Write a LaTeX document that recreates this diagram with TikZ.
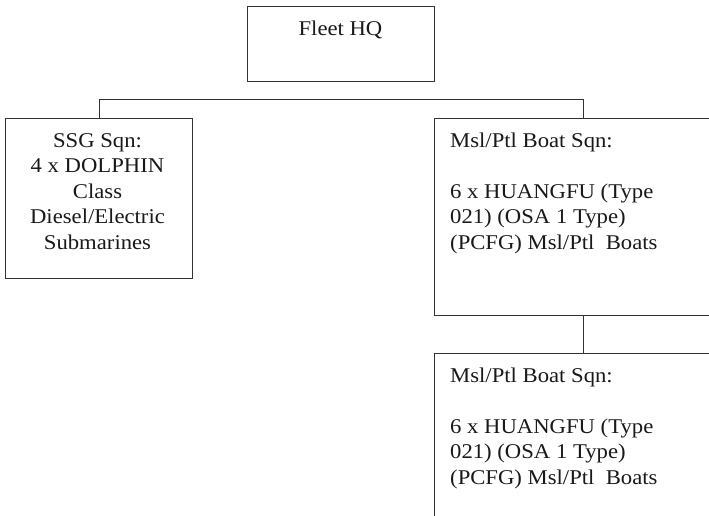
\documentclass[tikz,border=0pt]{standalone}
\usepackage{fontspec}
\setmainfont{Liberation Serif}[FakeStretch=1.08]
\begin{document}
\begin{tikzpicture}[x=1pt,y=-1pt,
  box/.style={draw=black!80, line width=1pt, rectangle, inner sep=0pt, anchor=north west},
  lbl/.style={font=\fontsize{21}{25.5}\selectfont, inner sep=0pt, anchor=base, text=black!90},
  link/.style={draw=black!80, line width=1pt}]
\useasboundingbox[fill=white] (0,0) rectangle (709,515);
\node[box, minimum width=187pt, minimum height=75pt] (hq) at (247,6) {};
\node[lbl] (hqt) at (340.5,35) {Fleet HQ};
\node[box, minimum width=187pt, minimum height=160pt] (ssg) at (5,118) {};
\node[lbl] (ssgt) at (97.5,147) {\begin{tabular}[t]{@{}c@{}}SSG Sqn:\\4 x DOLPHIN\\Class\\Diesel/Electric\\Submarines\end{tabular}};
\node[box, minimum width=298pt, minimum height=197pt] (m1) at (434,118) {};
\node[lbl, anchor=base west] (m1t) at (450,147) {\begin{tabular}[t]{@{}l@{}}Msl/Ptl Boat Sqn:\\ \\6 x HUANGFU (Type\\021) (OSA 1 Type)\\(PCFG) Msl/Ptl~ Boats\end{tabular}};
\node[box, minimum width=298pt, minimum height=197pt] (m2) at (434,353) {};
\node[lbl, anchor=base west] (m2t) at (450,382) {\begin{tabular}[t]{@{}l@{}}Msl/Ptl Boat Sqn:\\ \\6 x HUANGFU (Type\\021) (OSA 1 Type)\\(PCFG) Msl/Ptl~ Boats\end{tabular}};
\coordinate (bus) at (0,99);
\draw[link] (ssg.north) -- (ssg.north |- bus) -- (m1.north |- bus) -- (m1.north);
\draw[link] (m1.south) -- (m2.north);
\end{tikzpicture}
\end{document}
